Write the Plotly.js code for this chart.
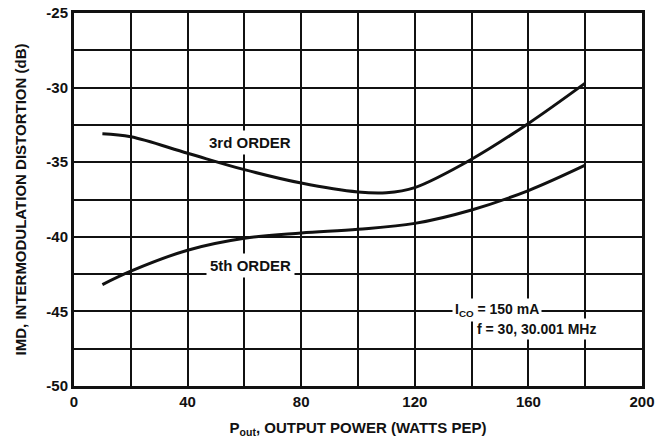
<!DOCTYPE html>
<html>
<head>
<meta charset="utf-8">
<script src="https://cdn.plot.ly/plotly-3.0.1.min.js"></script>
<style>html,body{margin:0;padding:0;background:#fff;}#chart{width:660px;height:442px;}</style>
</head>
<body>
<div id="chart"></div>
<script>
// Output power (W PEP)
const powerThird = [10, 20, 40, 60, 80, 100, 110, 120, 140, 160, 180];
const imdThird   = [-33.1, -33.3, -34.4, -35.5, -36.4, -37.0, -37.05, -36.7, -34.8, -32.4, -29.7];
const powerFifth = [10, 20, 40, 60, 80, 100, 120, 140, 160, 180];
const imdFifth   = [-43.2, -42.3, -40.9, -40.1, -39.75, -39.5, -39.1, -38.2, -36.9, -35.2];
const xTickVals = [0, 40, 80, 120, 160, 200];
const xTickText = ['0', '40', '80', '120', '160', '200'];
const yTickVals = [-50, -45, -40, -35, -30, -25];
const yTickText = ['-50', '-45', '-40', '-35', '-30', '-25'];
const labels = ['3rd ORDER', '5th ORDER'];
const labelPos = [[62, -33.65], [62, -41.9]];

const FONT = '"Liberation Sans", Arial, sans-serif';

const traces = [
  {x: powerThird, y: imdThird, mode: 'lines', line: {color: '#111', width: 3, shape: 'spline', smoothing: 1}, hoverinfo: 'skip'},
  {x: powerFifth, y: imdFifth, mode: 'lines', line: {color: '#111', width: 3, shape: 'spline', smoothing: 1}, hoverinfo: 'skip'}
];

const annotations = labels.map((t, i) => ({
  x: labelPos[i][0], y: labelPos[i][1], xref: 'x', yref: 'y', text: '<b>' + t + '</b>',
  showarrow: false, bgcolor: '#fff', borderpad: 3,
  font: {family: FONT, size: 15, color: '#111'}
}));
annotations.push({
  x: 133, y: -44.9, xref: 'x', yref: 'y', xanchor: 'left', text: '<b>I<sub>CO</sub> = 150 mA</b>',
  showarrow: false, bgcolor: '#fff', borderpad: 2, font: {family: FONT, size: 14, color: '#111'}
});
annotations.push({
  x: 141, y: -46.2, xref: 'x', yref: 'y', xanchor: 'left', text: '<b>f = 30, 30.001 MHz</b>',
  showarrow: false, bgcolor: '#fff', borderpad: 2, font: {family: FONT, size: 14, color: '#111'}
});

const layout = {
  width: 660, height: 442,
  margin: {l: 74, r: 18, t: 13, b: 56},
  paper_bgcolor: '#fff', plot_bgcolor: '#fff',
  showlegend: false,
  font: {family: FONT, color: '#111'},
  xaxis: {
    range: [0, 200], tickvals: xTickVals, ticktext: xTickText, ticks: '',
    showgrid: true, gridcolor: '#111', gridwidth: 2,
    minor: {tick0: 0, dtick: 20, showgrid: true, gridcolor: '#111', gridwidth: 2, ticks: ''},
    showline: true, linecolor: '#111', linewidth: 3, mirror: true, zeroline: false,
    tickfont: {family: FONT, size: 15, color: '#111', weight: 'bold'},
    title: {text: '<b>P<sub>out</sub>, OUTPUT POWER (WATTS PEP)</b>', font: {family: FONT, size: 15, color: '#111'}, standoff: 14}
  },
  yaxis: {
    range: [-50, -25], tickvals: yTickVals, ticktext: yTickText, ticks: '',
    showgrid: true, gridcolor: '#111', gridwidth: 2,
    minor: {tick0: -50, dtick: 2.5, showgrid: true, gridcolor: '#111', gridwidth: 2, ticks: ''},
    showline: true, linecolor: '#111', linewidth: 3, mirror: true, zeroline: false,
    tickfont: {family: FONT, size: 15, color: '#111', weight: 'bold'},
    title: {text: '<b>IMD, INTERMODULATION DISTORTION (dB)</b>', font: {family: FONT, size: 15, color: '#111'}, standoff: 17}
  },
  annotations: annotations
};

Plotly.newPlot('chart', traces, layout, {displayModeBar: false, staticPlot: true});
</script>
</body>
</html>
